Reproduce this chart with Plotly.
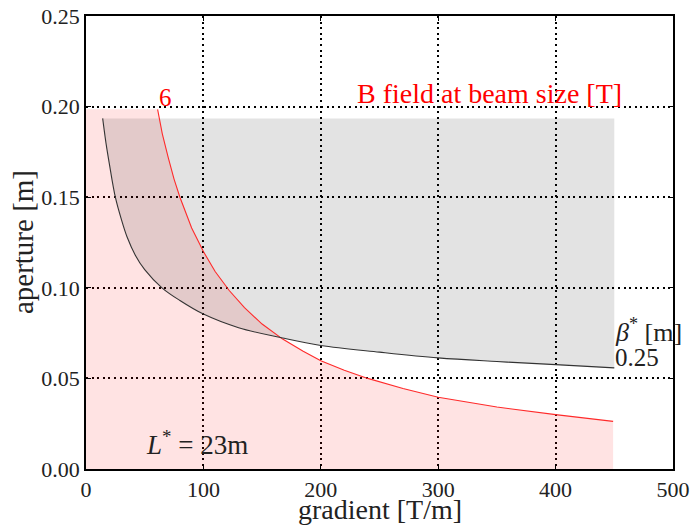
import plotly.graph_objects as go

# gradient [T/m] vs aperture [m] for B = 6 T contour
red_x = [61, 65, 70, 75, 80, 90, 100, 110, 122, 135, 150, 167.5, 185, 200, 220, 240, 270, 300, 350, 400, 449]
red_y = [0.1985, 0.185, 0.172, 0.160, 0.150, 0.133, 0.120, 0.109, 0.0985, 0.089, 0.080, 0.0717, 0.065,
         0.0598, 0.0545, 0.050, 0.0444, 0.0396, 0.0342, 0.030, 0.0263]
red_cap = 0.1985          # top of pink region
red_x_start = 0

# beta* = 0.25 m curve
blk_x = [14.2, 17, 20, 25, 30, 35, 42, 50, 64.7, 80, 100, 130, 167.5, 200, 250, 300, 350, 400, 450]
blk_y = [0.1935, 0.180, 0.168, 0.150, 0.138, 0.128, 0.118, 0.110, 0.100, 0.093, 0.0855, 0.078, 0.0723,
         0.0682, 0.0645, 0.0613, 0.0593, 0.0576, 0.0558]
gray_top = 0.1935

x_ticks = [0, 100, 200, 300, 400, 500]
y_ticks = [0.00, 0.05, 0.10, 0.15, 0.20, 0.25]

FONT = "Liberation Serif"
TXT = "#222"

fig = go.Figure()

# pink region under the 6 T curve
fx = [red_x_start] + red_x + [red_x[-1], red_x_start]
fy = [red_cap] + red_y + [0, 0]
fig.add_trace(go.Scatter(x=fx, y=fy, mode="lines", fill="toself",
                         fillcolor="rgba(255,0,0,0.11)", line=dict(width=0),
                         hoverinfo="skip", showlegend=False))

# gray region above the beta* curve
gx = blk_x + [blk_x[-1], blk_x[0]]
gy = blk_y + [gray_top, gray_top]
fig.add_trace(go.Scatter(x=gx, y=gy, mode="lines", fill="toself",
                         fillcolor="rgba(0,0,0,0.11)", line=dict(width=0),
                         hoverinfo="skip", showlegend=False))

fig.add_trace(go.Scatter(x=red_x, y=red_y, mode="lines",
                         line=dict(color="#ff2a2a", width=1.1), showlegend=False))
fig.add_trace(go.Scatter(x=blk_x, y=blk_y, mode="lines", line_shape="spline",
                         line=dict(color="#333333", width=1.1), showlegend=False))

axis_common = dict(
    showline=True, linecolor="black", linewidth=1.6, mirror="ticks",
    ticks="inside", ticklen=5, tickcolor="black", tickwidth=1,
    showgrid=True, gridcolor="black", gridwidth=2, griddash="2px,3.6px",
    zeroline=False, automargin=False, ticklabeloverflow="allow",
    tickfont=dict(family=FONT, size=22, color=TXT),
)

fig.update_xaxes(range=[0, 500], tickvals=x_ticks, ticktext=[str(v) for v in x_ticks], **axis_common)
fig.update_yaxes(range=[0, 0.25], tickvals=y_ticks, ticktext=[f"{v:.2f}" for v in y_ticks], **axis_common)

ann = [
    dict(x=60.5, y=0.205, text="6", font=dict(family=FONT, size=25, color="red"), xanchor="left"),
    dict(x=229, y=0.2075, text="B field at beam size [T]", font=dict(family=FONT, size=28, color="red"), xanchor="left"),
    dict(x=449, y=0.0765, text="<i>β</i><sup>*</sup> [m]", font=dict(family=FONT, size=26, color=TXT), xanchor="left"),
    dict(x=449, y=0.0615, text="0.25", font=dict(family=FONT, size=25, color=TXT), xanchor="left"),
    dict(x=49, y=0.0145, text="<i>L</i><sup>*</sup> = 23m", font=dict(family=FONT, size=27, color=TXT), xanchor="left"),
]
for a in ann:
    fig.add_annotation(xref="x", yref="y", showarrow=False, yanchor="middle", **a)

# axis titles
fig.add_annotation(xref="paper", yref="paper", x=0.5, y=0, yshift=-40, yanchor="middle",
                   text="gradient [T/m]", showarrow=False, font=dict(family=FONT, size=28, color=TXT))
fig.add_annotation(xref="paper", yref="paper", x=-0.108, y=0.5, xanchor="center", yanchor="middle",
                   textangle=-90, text="aperture [m]", showarrow=False,
                   font=dict(family=FONT, size=29, color=TXT))

fig.update_layout(
    width=691, height=525,
    margin=dict(l=86, r=18, t=16, b=56),
    plot_bgcolor="white", paper_bgcolor="white",
    showlegend=False,
)

# remove the default page margin so the 691x525 figure fills the window exactly
fig.write_html("out.html", config={"displayModeBar": False},
               post_script="document.body.style.margin='0';document.body.style.overflow='hidden';")
